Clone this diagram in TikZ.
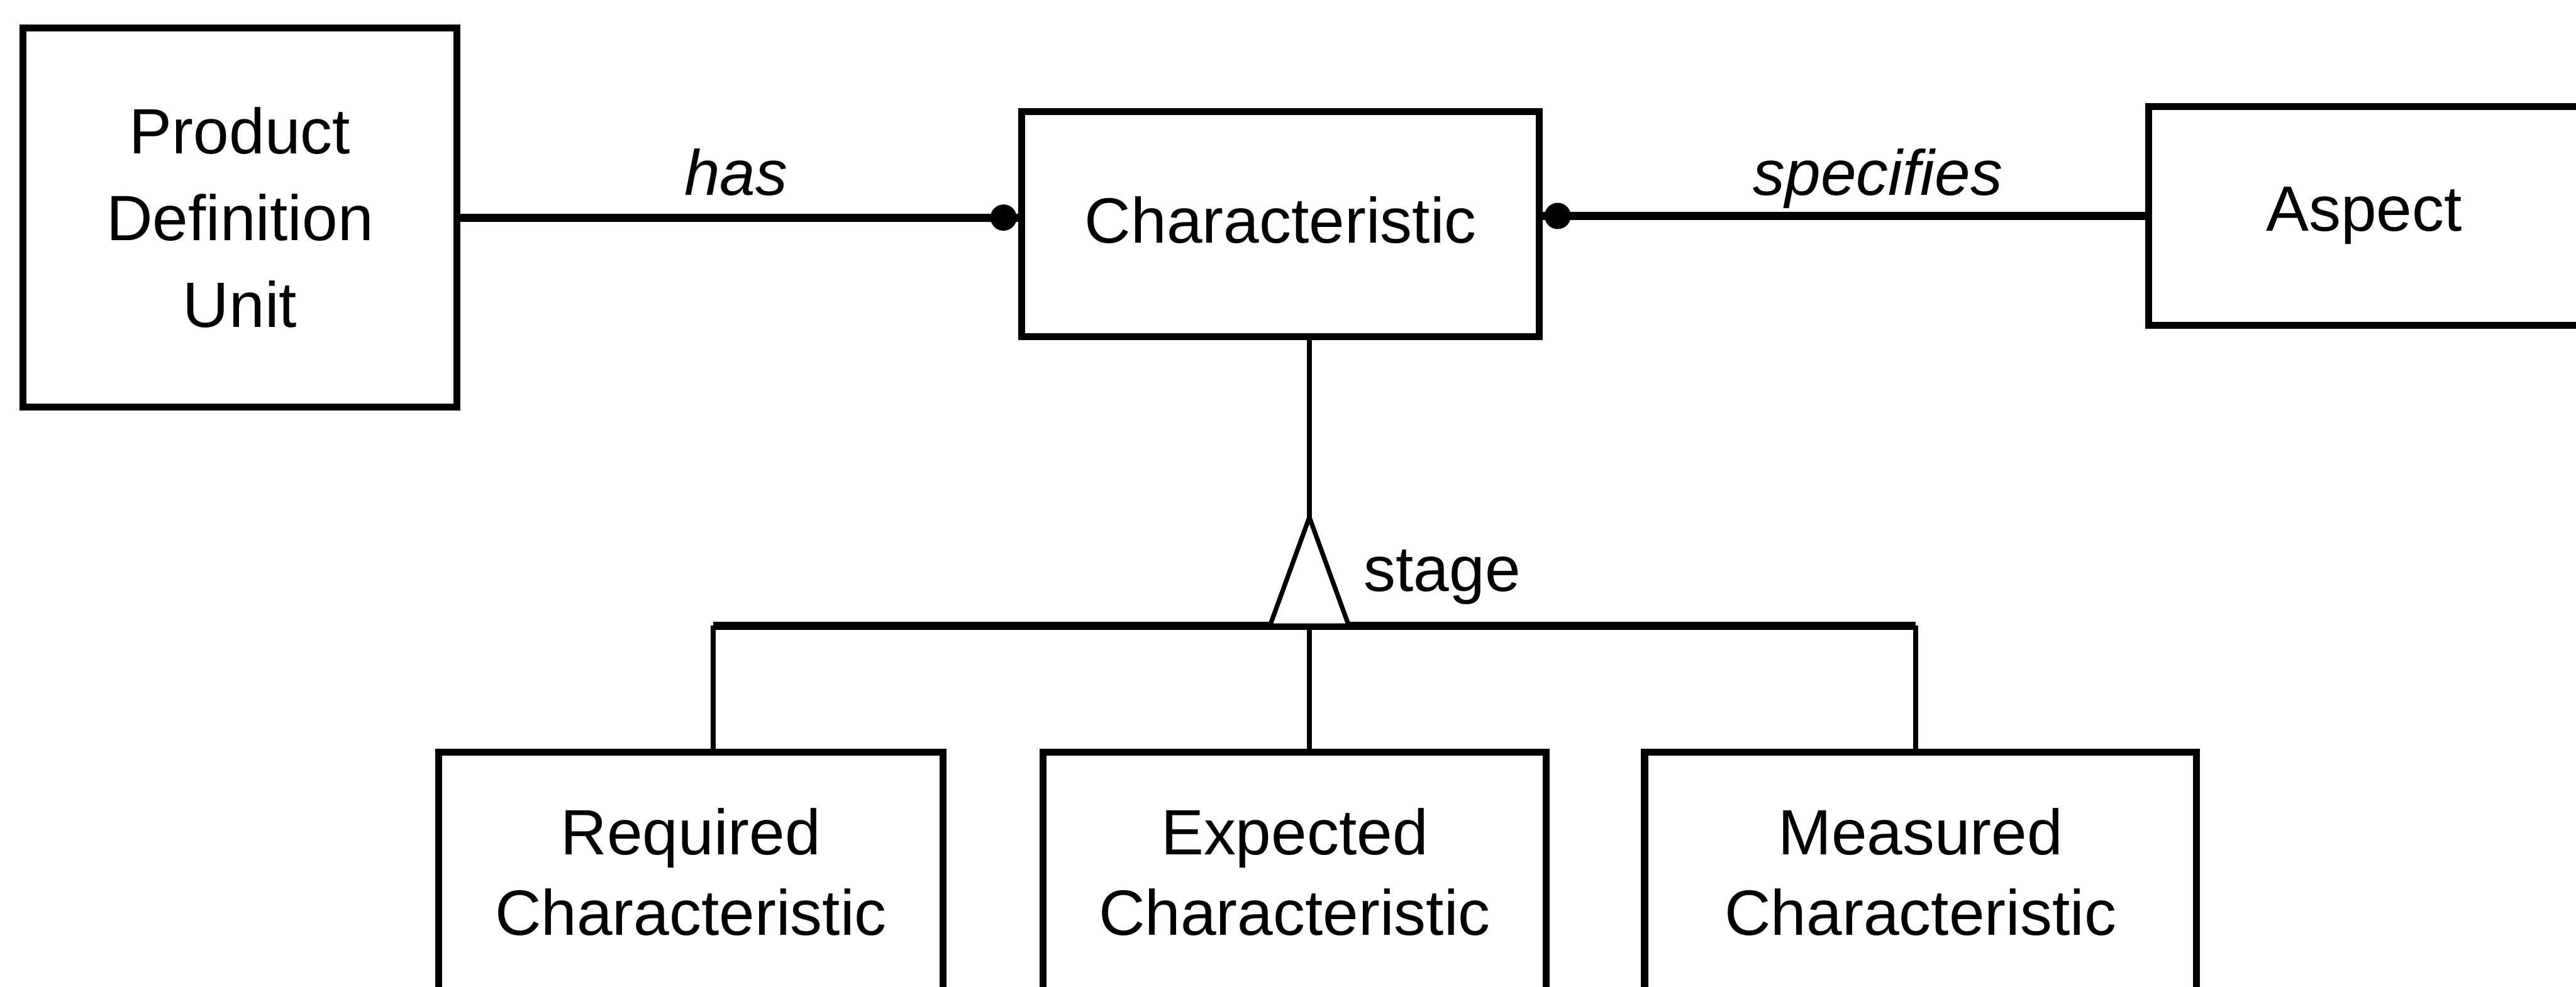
\documentclass[tikz,border=0pt]{standalone}
\usepackage{fontspec}
\setmainfont{Liberation Sans}
\begin{document}
\begin{tikzpicture}[x=1pt,y=-1pt,
  entity/.style={draw, line width=4.3pt, inner sep=0pt, align=center,
    font=\fontsize{39}{53}\selectfont},
  subentity/.style={entity, font=\fontsize{39}{49}\selectfont},
  assoc/.style={line width=5pt},
  drop/.style={line width=3.2pt},
  gentri/.style={draw, line width=2.8pt, fill=white, line join=miter},
  reltext/.style={inner sep=0pt, font=\fontsize{39}{47}\selectfont},
]
\fill[white] (0,0) rectangle (1568,601);
\clip (0,0) rectangle (1568,601);

% top row entities
\node[entity, minimum width=264pt, minimum height=231pt] (pdu) at (146,132.5)
  {Product\\Definition\\Unit};
\node[entity, minimum width=315pt, minimum height=137pt] (char) at (779.5,136.5)
  {\raisebox{5pt}{Characteristic}};
\node[entity, minimum width=262pt, minimum height=133pt] (aspect) at (1439,131.5)
  {Aspect};

% subtype entities
\node[subentity, minimum width=307pt, minimum height=146pt] (req) at (420.5,531)
  {Required\\Characteristic};
\node[subentity, minimum width=306pt, minimum height=146pt] (exp) at (788,531)
  {Expected\\Characteristic};
\node[subentity, minimum width=336pt, minimum height=146pt] (meas) at (1169,531)
  {Measured\\Characteristic};

% associations with filled-dot ends
\draw[assoc] (pdu.east) -- (pdu.east -| char.west);
\fill ([xshift=-9pt]pdu.east -| char.west) circle (8pt);
\draw[assoc] (aspect.west) -- (aspect.west -| char.east);
\fill ([xshift=9pt]aspect.west -| char.east) circle (8pt);

\node[reltext, anchor=base, font=\fontsize{39}{47}\selectfont\itshape] (hasl) at (448,119) {has};
\node[reltext, anchor=base, font=\fontsize{39}{47}\selectfont\itshape] (specl) at (1143,119) {specifies};

% generalisation
\coordinate (apex) at (797,315);
\coordinate (hub) at (797,381);
\coordinate (dropR) at (434,381);
\coordinate (dropM) at (1166,381);

\draw[drop] (char.south -| apex) -- (apex);
\draw[assoc] (dropR) -- (dropM);
\draw[drop] (dropR) -- (dropR |- req.north);
\draw[drop] (hub) -- (hub |- exp.north);
\draw[drop] (dropM) -- (dropM |- meas.north);
\draw[gentri] (apex) -- ([xshift=-24pt]hub) -- ([xshift=24pt]hub) -- cycle;

\node[reltext, anchor=base west] (stagel) at (830,360) {stage};
\end{tikzpicture}
\end{document}
